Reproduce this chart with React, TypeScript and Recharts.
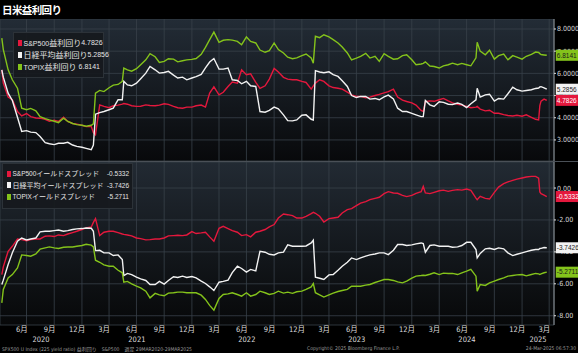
import React from "react";
import { LineChart, Line, XAxis, YAxis, CartesianGrid } from "recharts";

// weekly-ish sampling
const dates = [
  "2020-04-10", "2020-04-15", "2020-05-01", "2020-05-15", "2020-06-01", "2020-06-15", "2020-07-01", "2020-07-15", "2020-08-01",
  "2020-08-15", "2020-09-01", "2020-09-15", "2020-10-01", "2020-10-15", "2020-11-01", "2020-11-15", "2020-12-01", "2020-12-15",
  "2021-01-01", "2021-01-15", "2021-02-01", "2021-02-08", "2021-02-15", "2021-03-01", "2021-03-15", "2021-04-01", "2021-04-15",
  "2021-05-01", "2021-05-15", "2021-05-20", "2021-06-01", "2021-06-15", "2021-07-01", "2021-07-15", "2021-08-01", "2021-08-15",
  "2021-09-01", "2021-09-15", "2021-10-01", "2021-10-15", "2021-11-01", "2021-11-15", "2021-12-01", "2021-12-15",
  "2022-01-01", "2022-01-15", "2022-02-01", "2022-02-15", "2022-03-01", "2022-03-15", "2022-04-01", "2022-04-15", "2022-05-01",
  "2022-05-15", "2022-06-01", "2022-06-15", "2022-07-01", "2022-07-15", "2022-08-01", "2022-08-15", "2022-09-01", "2022-09-15",
  "2022-10-01", "2022-10-15", "2022-11-01", "2022-11-15", "2022-12-01", "2022-12-15",
  "2023-01-01", "2023-01-15", "2023-02-01", "2023-02-08", "2023-02-15", "2023-03-01", "2023-03-15", "2023-04-01", "2023-04-15",
  "2023-05-01", "2023-05-15", "2023-06-01", "2023-06-15", "2023-07-01", "2023-07-15", "2023-08-01", "2023-08-15", "2023-09-01",
  "2023-09-15", "2023-10-01", "2023-10-15", "2023-11-01", "2023-11-15", "2023-12-01", "2023-12-15",
  "2024-01-01", "2024-01-15", "2024-02-01", "2024-02-08", "2024-02-15", "2024-03-01", "2024-03-15", "2024-04-01", "2024-04-15",
  "2024-05-01", "2024-05-15", "2024-06-01", "2024-06-15", "2024-07-01", "2024-07-15", "2024-08-01", "2024-08-05", "2024-08-15",
  "2024-09-01", "2024-09-15", "2024-10-01", "2024-10-15", "2024-11-01", "2024-11-15", "2024-12-01", "2024-12-15",
  "2025-01-01", "2025-01-15", "2025-02-01", "2025-02-15", "2025-02-25", "2025-03-01", "2025-03-05", "2025-03-15", "2025-03-24",
];

const spxYield = [
  6.16, 5.56, 4.93, 4.81, 4.28, 4.08, 4.19, 4.05, 3.99, 3.98, 3.93, 3.84, 3.89, 3.83, 4.02, 3.83, 3.74, 3.71,
  3.66, 3.6, 3.6, 3.33, 3.23, 4.58, 4.51, 4.45, 4.54, 4.57, 4.61, 4.64, 4.61, 4.54, 4.51, 4.52, 4.58, 4.55, 4.54, 4.57, 4.63, 4.6, 4.51, 4.45, 4.43, 4.48,
  4.48, 4.54, 4.57, 4.48, 5.11, 5.39, 5.03, 5.15, 5.41, 5.61, 5.56, 6.16, 5.94, 5.98, 5.59, 5.32, 5.44, 5.74, 6.22, 6.06, 5.82, 5.74, 5.71, 5.71,
  5.64, 5.59, 5.29, 5.44, 5.56, 5.71, 5.64, 5.44, 5.36, 5.33, 5.29, 5.15, 5.03, 4.96, 4.96, 4.9, 4.93, 5.0, 5.05, 5.12, 5.18, 5.29, 4.93, 4.79, 4.73,
  4.67, 4.57, 4.33, 4.28, 4.73, 4.76, 4.74, 4.81, 4.87, 4.76, 4.67, 4.61, 4.57, 4.51, 4.45, 4.48, 4.51, 4.39, 4.31, 4.34, 4.2, 4.2, 4.14, 4.1, 4.08, 4.11,
  4.07, 4.13, 4.02, 3.93, 3.9, 4.55, 4.75, 4.84, 4.7826,
];

const nikkeiYield = [
  6.16, 5.83, 5.11, 4.78, 4.02, 3.38, 3.42, 3.35, 3.33, 3.15, 2.88, 2.83, 2.79, 2.85, 2.85, 2.89, 2.77, 2.71,
  2.67, 2.62, 2.56, 2.77, 4.16, 4.23, 4.28, 4.36, 4.43, 4.81, 4.81, 5.64, 5.48, 5.44, 5.56, 5.76, 6.01, 6.31, 6.16, 6.01, 6.04, 6.09, 5.92, 5.79, 5.83, 5.71,
  5.79, 5.85, 5.95, 6.25, 6.51, 6.67, 6.19, 6.19, 6.24, 5.71, 5.68, 5.53, 5.64, 5.44, 5.41, 4.28, 4.25, 4.33, 4.48, 4.4, 4.13, 3.87, 3.86, 3.9,
  4.11, 4.13, 3.93, 3.9, 6.12, 6.06, 6.03, 6.07, 5.94, 5.86, 5.67, 5.41, 5.0, 4.91, 4.96, 4.96, 4.84, 4.87, 4.81, 4.94, 5.02, 4.85, 4.43, 4.28, 4.28,
  4.2, 4.13, 4.05, 4.05, 4.78, 4.58, 4.51, 4.72, 4.69, 4.61, 4.6, 4.66, 4.6, 4.46, 4.63, 4.81, 5.33, 4.93, 5.03, 5.06, 4.75, 4.87, 4.84, 5.08, 5.38, 5.26,
  5.2, 5.23, 5.26, 5.32, 5.34, 5.39, 5.4, 5.35, 5.2856,
];

const topixYield = [
  7.59, 7.07, 6.16, 5.71, 5.33, 4.43, 4.36, 4.42, 4.31, 4.05, 3.96, 3.9, 3.84, 3.78, 3.98, 3.83, 3.74, 3.69,
  3.66, 3.62, 3.66, 3.72, 5.11, 5.23, 5.18, 5.35, 5.47, 5.5, 5.64, 6.24, 6.16, 6.1, 6.21, 6.39, 6.61, 6.89, 6.75, 6.49, 6.54, 6.66, 6.64, 6.52, 6.57, 6.61,
  6.63, 6.67, 6.86, 7.17, 7.52, 7.86, 7.4, 7.49, 7.52, 7.5, 7.44, 7.29, 7.64, 7.44, 7.37, 7.05, 6.95, 7.02, 7.37, 7.07, 6.92, 6.73, 6.66, 6.7,
  6.8, 6.87, 6.69, 6.46, 7.67, 7.61, 7.74, 7.64, 7.52, 7.37, 7.19, 6.92, 6.61, 6.69, 6.77, 6.9, 6.69, 6.77, 6.54, 6.89, 6.77, 6.64, 6.66, 6.8, 6.84,
  6.61, 6.39, 6.42, 6.45, 6.52, 6.33, 6.31, 6.24, 6.34, 6.39, 6.46, 6.39, 6.45, 6.39, 6.34, 6.7, 7.4, 7.0, 6.84, 7.04, 6.64, 6.8, 6.87, 6.61, 6.8, 6.73,
  6.64, 6.77, 6.86, 6.96, 6.94, 6.89, 6.85, 6.83, 6.8141,
];

const spxSpread = [
  -5.42, -4.94, -3.96, -3.65, -3.19, -3.23, -3.31, -3.23, -3.19, -3.19, -3.02, -3.0, -3.04, -2.94, -2.98, -2.88, -2.79, -2.71,
  -2.6, -2.5, -2.44, -2.15, -1.92, -2.98, -2.77, -2.71, -2.71, -2.79, -2.88, -2.9, -2.94, -3.0, -3.13, -3.17, -3.25, -3.23, -3.19, -3.19, -3.13, -3.0, -2.98, -2.96, -2.98, -2.94,
  -2.73, -2.85, -2.81, -2.77, -3.06, -3.33, -2.52, -2.4, -2.54, -2.67, -2.77, -2.98, -2.92, -3.06, -2.77, -2.71, -2.6, -2.44, -2.29, -1.88, -1.63, -1.67, -1.73, -1.88,
  -1.88, -1.77, -1.6, -1.52, -1.58, -1.77, -2.13, -1.92, -1.88, -1.83, -1.56, -1.35, -1.29, -1.1, -0.94, -0.85, -0.73, -0.65, -0.58, -0.35, -0.23, -0.31, -0.33, -0.46, -0.54,
  -0.46, -0.33, -0.23, 0.1, -0.31, -0.35, -0.27, -0.17, -0.13, -0.21, -0.15, -0.1, -0.13, -0.06, -0.15, -0.63, -0.73, -0.52, -0.65, -0.69, -0.27, 0.06, 0.27, 0.38, 0.48, 0.56,
  0.63, 0.69, 0.73, 0.73, 0.62, -0.25, -0.35, -0.44, -0.5332,
];

const nikkeiSpread = [
  -6.04, -5.77, -4.79, -4.06, -3.33, -3.13, -3.25, -3.19, -3.13, -2.75, -2.71, -2.71, -2.67, -2.63, -2.71, -2.67, -2.6, -2.56,
  -2.54, -2.5, -2.52, -2.71, -3.92, -3.9, -4.06, -4.06, -4.23, -4.19, -4.48, -5.48, -5.35, -5.42, -5.58, -5.69, -5.79, -6.04, -6.04, -5.85, -6.02, -5.79, -5.56, -5.6, -5.52, -5.6,
  -5.54, -5.63, -5.83, -5.98, -6.19, -6.42, -5.9, -5.85, -5.77, -5.3, -4.9, -5.04, -5.27, -5.1, -5.19, -3.96, -4.02, -4.15, -4.19, -4.06, -4.02, -3.56, -3.65, -3.65,
  -3.65, -3.63, -3.44, -3.27, -5.58, -5.65, -5.73, -5.44, -5.42, -5.15, -4.9, -4.65, -4.38, -4.48, -4.38, -4.27, -4.19, -4.13, -4.06, -4.06, -4.17, -3.9, -3.54, -3.54, -3.6,
  -3.56, -3.5, -3.44, -3.48, -4.02, -3.6, -3.56, -3.65, -3.65, -3.65, -3.71, -3.69, -3.6, -3.4, -3.4, -3.85, -4.38, -4.1, -3.81, -3.77, -3.85, -3.75, -3.81, -4.06, -4.23, -4.15,
  -4.06, -3.98, -3.9, -3.85, -3.85, -3.79, -3.78, -3.73, -3.7426,
];

const topixSpread = [
  -7.19, -6.35, -5.63, -5.42, -5.0, -4.19, -4.23, -4.27, -4.13, -3.83, -3.75, -3.69, -3.75, -3.79, -3.71, -3.69, -3.69, -3.65,
  -3.6, -3.52, -3.58, -3.69, -4.52, -4.65, -4.81, -4.9, -4.9, -5.15, -5.31, -5.9, -5.85, -6.0, -6.15, -6.25, -6.46, -6.88, -6.6, -6.69, -6.75, -6.58, -6.56, -6.52, -6.52, -6.56,
  -6.56, -6.56, -6.71, -6.98, -7.35, -7.65, -6.92, -6.67, -6.63, -6.56, -6.67, -6.77, -6.56, -6.77, -6.67, -6.46, -6.56, -6.67, -6.6, -6.46, -6.58, -6.52, -6.6, -6.5,
  -6.46, -6.35, -6.19, -5.98, -6.56, -6.69, -6.83, -6.69, -6.58, -6.48, -6.42, -6.35, -6.15, -6.15, -6.15, -6.08, -6.04, -5.92, -5.83, -5.73, -5.73, -5.79, -5.88, -5.94, -5.83,
  -5.65, -5.52, -5.48, -5.46, -5.48, -5.4, -5.31, -5.42, -5.33, -5.35, -5.35, -5.42, -5.31, -5.21, -5.1, -5.52, -6.46, -6.04, -6.1, -5.94, -5.83, -5.73, -5.63, -5.52, -5.48, -5.44,
  -5.42, -5.5, -5.42, -5.35, -5.38, -5.42, -5.38, -5.31, -5.2711,
];

const yieldNames = ["S&P500益利回り", "日経平均益利回り", "TOPIX益利回り"];
const spreadNames = ["S&P500イールドスプレッド", "日経平均イールドスプレッド", "TOPIXイールドスプレッド"];

const quarterDates = [
  "2020-07-01", "2020-10-01", "2021-01-01", "2021-04-01", "2021-07-01", "2021-10-01", "2022-01-01", "2022-04-01", "2022-07-01", "2022-10-01",
  "2023-01-01", "2023-04-01", "2023-07-01", "2023-10-01", "2024-01-01", "2024-04-01", "2024-07-01", "2024-10-01", "2025-01-01", "2025-04-01",
];
const monthLabelDates = [
  "2020-06-16", "2020-09-16", "2020-12-16", "2021-03-16", "2021-06-16", "2021-09-16", "2021-12-16", "2022-03-16", "2022-06-16", "2022-09-16",
  "2022-12-16", "2023-03-16", "2023-06-16", "2023-09-16", "2023-12-16", "2024-03-16", "2024-06-16", "2024-09-16", "2024-12-16", "2025-03-16",
];
const years = [2020, 2021, 2022, 2023, 2024, 2025];
const topTicks = [3, 4, 5, 6, 7, 8];
const bottomTicks = [-8, -6, -4, -2, 0];

const RED = "#e4183d";
const WHITE = "#f2f2f2";
const GREEN = "#84c31b";
const FONT = "'Liberation Sans Narrow','DejaVu Sans Condensed','Noto Sans CJK JP',sans-serif";
const NARROW = "'Liberation Sans Narrow',sans-serif";

const ts = (d: string) => Date.parse(d + "T00:00:00Z");
const X0 = ts("2020-04-04");
const X1 = ts("2025-04-17");

const rows = dates.map((d, i) => ({
  t: ts(d),
  spxY: spxYield[i],
  nkY: nikkeiYield[i],
  tpY: topixYield[i],
  spxS: spxSpread[i],
  nkS: nikkeiSpread[i],
  tpS: topixSpread[i],
}));
const last = rows.length - 1;

const quarterTicks = quarterDates.map(ts);
const monthTicks = monthLabelDates.map(ts);
const yearTicks = years.map((y) => {
  const a = Math.max(X0, Date.UTC(y, 0, 1));
  const b = Math.min(X1, Date.UTC(y + 1, 0, 1));
  return (a + b) / 2;
});

const fmtMonth = (v: number) => `${new Date(v).getUTCMonth() + 1}月`;
const fmtYear = (v: number) => String(new Date(v).getUTCFullYear());

function endLabel(bg: string, fg: string, digits: number) {
  return (p: any) => {
    if (p.index !== last) return null;
    const x = p.x ?? p.viewBox?.x;
    const y = p.y ?? p.viewBox?.y;
    return (
      <g>
        <rect x={x + 9} y={y - 5.5} width={26} height={11} fill={bg} />
        <text x={x + 10} y={y + 2.3} fontSize={6.5} fill={fg} fontFamily={NARROW}>
          {Number(p.value).toFixed(digits)}
        </text>
      </g>
    );
  };
}

function QuarterTick(p: any) {
  const d = new Date(p.payload.value);
  if (d.getUTCMonth() !== 0) return <g />;
  return <line x1={p.x} x2={p.x} y1={p.y - 3} y2={p.y + 15} stroke="#8c8c8c" />;
}

// ascii runs in the condensed Latin face, slightly smaller than the kana
function Name({ text, latin }: { text: string; latin: number }) {
  const parts = text.split(/([A-Za-z0-9&]+)/).filter(Boolean);
  return (
    <>
      {parts.map((s, i) =>
        /^[A-Za-z0-9&]+$/.test(s) ? (
          <span key={i} style={{ fontSize: latin, fontFamily: NARROW }}>
            {s}
          </span>
        ) : (
          <span key={i}>{s}</span>
        )
      )}
    </>
  );
}

function LegendBox({ left, top, width, height, names, values, colors, size, latin, row }: any) {
  return (
    <div
      style={{
        position: "absolute",
        left,
        top,
        width,
        height,
        boxSizing: "border-box",
        padding: "4px 3px 0 4px",
        background: "rgba(22,25,29,0.92)",
        border: "1px solid #2c3238",
        fontFamily: "'Noto Sans CJK JP',sans-serif",
        color: "#e4e4e4",
        fontSize: size,
        lineHeight: `${row}px`,
      }}
    >
      {names.map((n: string, i: number) => (
        <div key={n} style={{ display: "flex", alignItems: "center", whiteSpace: "nowrap", height: row }}>
          <span style={{ width: 4, height: 6, background: colors[i], marginRight: 1.5, flex: "none" }} />
          <span style={{ flex: 1 }}>
            <Name text={n} latin={latin} />
          </span>
          <span style={{ fontSize: latin, fontFamily: NARROW }}>{values[i]}</span>
        </div>
      ))}
    </div>
  );
}

const gridStroke = "#39414a";

export default function App() {
  const yTick = { fill: "#d6d6d6", fontSize: 7, fontFamily: FONT };
  return (
    <div style={{ position: "absolute", left: 0, top: 0, width: 578, height: 353, background: "#000", overflow: "hidden" }}>
      <div
        style={{
          position: "absolute",
          left: 2,
          top: 2,
          color: "#fff",
          fontWeight: "bold",
          fontSize: 10.5,
          letterSpacing: -0.6,
          fontFamily: "'Noto Sans CJK JP',sans-serif",
          lineHeight: "15px",
        }}
      >
        日米益利回り
      </div>

      <div style={{ position: "absolute", left: 0, top: 19 }}>
        <LineChart width={578} height={142} data={rows} margin={{ top: 0, right: 0, bottom: 0, left: 0 }}>
          <defs>
            <linearGradient id="bgTop" x1="0" y1="0" x2="0" y2="1">
              <stop offset="0" stopColor="#232c36" />
              <stop offset="1" stopColor="#08090b" />
            </linearGradient>
          </defs>
          <CartesianGrid xAxisId="q" yAxisId="v" fill="url(#bgTop)" fillOpacity={1} stroke={gridStroke} strokeWidth={0.8} />
          <XAxis xAxisId="q" dataKey="t" type="number" domain={[X0, X1]} allowDataOverflow ticks={quarterTicks} interval={0} hide />
          <YAxis
            yAxisId="v"
            orientation="right"
            width={24}
            domain={[2.05, 8.45]}
            allowDataOverflow
            ticks={topTicks}
            interval={0}
            tickFormatter={(v: number) => v.toFixed(4)}
            tick={yTick}
            tickSize={2}
            tickMargin={1}
            tickLine={{ stroke: "#ddd" }}
            axisLine={{ stroke: "#8f959b" }}
          />
          <Line xAxisId="q" yAxisId="v" dataKey="spxY" stroke={RED} strokeWidth={1.4} dot={false} isAnimationActive={false} label={endLabel(RED, "#fff", 4)} />
          <Line xAxisId="q" yAxisId="v" dataKey="nkY" stroke={WHITE} strokeWidth={1.4} dot={false} isAnimationActive={false} label={endLabel(WHITE, "#222", 4)} />
          <Line xAxisId="q" yAxisId="v" dataKey="tpY" stroke={GREEN} strokeWidth={1.4} dot={false} isAnimationActive={false} label={endLabel(GREEN, "#1a1a1a", 4)} />
        </LineChart>
      </div>

      <div style={{ position: "absolute", left: 0, top: 161, width: 578, height: 1, background: "#4a5057" }} />

      <div style={{ position: "absolute", left: 0, top: 162 }}>
        <LineChart width={578} height={186} data={rows} margin={{ top: 0, right: 0, bottom: 0, left: 0 }}>
          <defs>
            <linearGradient id="bgBot" x1="0" y1="0" x2="0" y2="1">
              <stop offset="0" stopColor="#222a33" />
              <stop offset="1" stopColor="#070809" />
            </linearGradient>
          </defs>
          <CartesianGrid xAxisId="q" yAxisId="v" fill="url(#bgBot)" fillOpacity={1} stroke={gridStroke} strokeWidth={0.8} />
          <XAxis
            xAxisId="q"
            dataKey="t"
            type="number"
            domain={[X0, X1]}
            allowDataOverflow
            ticks={quarterTicks}
            interval={0}
            height={0}
            tick={<QuarterTick />}
            tickSize={3}
            tickMargin={0}
            tickLine={{ stroke: "#9a9a9a" }}
            axisLine={{ stroke: "#b8b8b8" }}
          />
          <XAxis
            xAxisId="m"
            dataKey="t"
            type="number"
            domain={[X0, X1]}
            allowDataOverflow
            ticks={monthTicks}
            interval={0}
            height={11}
            tickFormatter={fmtMonth}
            tick={{ fill: "#dcdcdc", fontSize: 7.5, fontFamily: FONT }}
            tickSize={0}
            tickMargin={2}
            tickLine={false}
            axisLine={false}
          />
          <XAxis
            xAxisId="y"
            dataKey="t"
            type="number"
            domain={[X0, X1]}
            allowDataOverflow
            ticks={yearTicks}
            interval={0}
            height={12}
            tickFormatter={fmtYear}
            tick={{ fill: "#dcdcdc", fontSize: 7.5, fontFamily: FONT }}
            tickSize={0}
            tickMargin={1}
            tickLine={false}
            axisLine={false}
          />
          <YAxis
            yAxisId="v"
            orientation="right"
            width={24}
            domain={[-8.58, 1.63]}
            allowDataOverflow
            ticks={bottomTicks}
            interval={0}
            tickFormatter={(v: number) => v.toFixed(2)}
            tick={yTick}
            tickSize={2}
            tickMargin={1}
            tickLine={{ stroke: "#ddd" }}
            axisLine={{ stroke: "#8f959b" }}
          />
          <Line xAxisId="q" yAxisId="v" dataKey="spxS" stroke={RED} strokeWidth={1.4} dot={false} isAnimationActive={false} label={endLabel(RED, "#fff", 4)} />
          <Line xAxisId="q" yAxisId="v" dataKey="nkS" stroke={WHITE} strokeWidth={1.4} dot={false} isAnimationActive={false} label={endLabel(WHITE, "#222", 4)} />
          <Line xAxisId="q" yAxisId="v" dataKey="tpS" stroke={GREEN} strokeWidth={1.4} dot={false} isAnimationActive={false} label={endLabel(GREEN, "#1a1a1a", 4)} />
        </LineChart>
      </div>

      <LegendBox
        left={13}
        top={32}
        width={91}
        height={46}
        size={8}
        latin={7}
        row={12}
        names={yieldNames}
        values={[spxYield[last], nikkeiYield[last], topixYield[last]].map((v) => v.toFixed(4))}
        colors={[RED, WHITE, GREEN]}
      />
      <LegendBox
        left={2}
        top={163}
        width={131}
        height={46}
        size={7}
        latin={6.5}
        row={11.5}
        names={spreadNames}
        values={[spxSpread[last], nikkeiSpread[last], topixSpread[last]].map((v) => v.toFixed(4))}
        colors={[RED, WHITE, GREEN]}
      />

      <div style={{ position: "absolute", left: 2, top: 345, fontSize: 5, color: "#9a9a9a", fontFamily: FONT, whiteSpace: "nowrap" }}>
        SPX500 U Index (225 yield ratio) 益利回り　S&amp;P500　週足 29MAR2020-29MAR2025
      </div>
      <div style={{ position: "absolute", left: 307, top: 345, fontSize: 5, color: "#9a9a9a", fontFamily: FONT, whiteSpace: "nowrap" }}>
        Copyright© 2025 Bloomberg Finance L.P.
      </div>
      <div style={{ position: "absolute", right: 2, top: 345, fontSize: 5, color: "#9a9a9a", fontFamily: FONT, whiteSpace: "nowrap" }}>
        24-Mar-2025 06:57:30
      </div>
    </div>
  );
}
